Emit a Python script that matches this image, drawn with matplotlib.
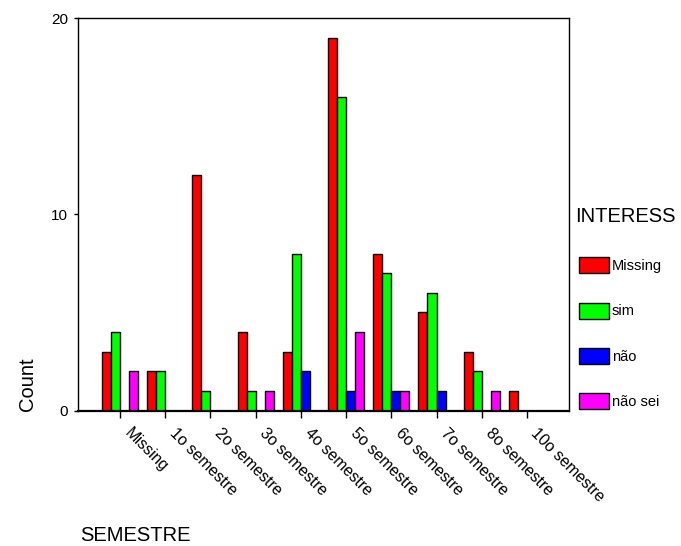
# grouped bar chart: SEMESTRE by INTERESS (counts)
import numpy as np
import matplotlib.pyplot as plt
import matplotlib.transforms as mtransforms

plt.rcParams['font.family'] = ['Liberation Sans', 'DejaVu Sans']

# categories on the x axis
semestres = ['Missing', '1o semestre', '2o semestre', '3o semestre', '4o semestre',
             '5o semestre', '6o semestre', '7o semestre', '8o semestre', '10o semestre']

# counts per INTERESS group
missing = [3, 2, 12, 4, 3, 19, 8, 5, 3, 1]
sim = [4, 2, 1, 1, 8, 16, 7, 6, 2, 0]
nao = [0, 0, 0, 0, 2, 1, 1, 1, 0, 0]
nao_sei = [2, 0, 0, 1, 0, 4, 1, 0, 1, 0]

series = [('Missing', missing, '#ff0000'),
          ('sim', sim, '#00ff00'),
          ('não', nao, '#0000ff'),
          ('não sei', nao_sei, '#ff00ff')]

fig = plt.figure(figsize=(6.81, 5.46), dpi=100)
ax = fig.add_axes([0.1145, 0.248, 0.721, 0.719])

x = np.arange(len(semestres))
w = 0.2
for i, (name, vals, col) in enumerate(series):
    vals = np.array(vals, dtype=float)
    # hide empty bars (SPSS does not draw them)
    vals[vals == 0] = np.nan
    ax.bar(x + (i - 1.5) * w, vals, w, color=col, edgecolor='black',
           linewidth=1, label=name)

ax.set_xlim(-0.93, len(semestres) - 1 + 0.93)
ax.set_ylim(0, 20)
ax.set_yticks([0, 10, 20])
ax.set_xticks(x)
ax.set_xticklabels(semestres, rotation=-45, ha='left', va='top',
                   rotation_mode='anchor', fontsize=11.5)
ax.tick_params(axis='x', direction='out', length=5, width=1, pad=6)
ax.tick_params(axis='y', direction='out', length=3, width=1, labelsize=11, pad=4)
# labels sit a bit to the right of the ticks, like in SPSS
shift = mtransforms.ScaledTranslation(0.12, 0.0, fig.dpi_scale_trans)
for lab in ax.get_xticklabels():
    lab.set_transform(lab.get_transform() + shift)
for s in ax.spines.values():
    s.set_linewidth(1)
ax.spines['bottom'].set_linewidth(1.6)

fig.text(0.041, 0.297, 'Count', rotation=90, ha='center', va='center', fontsize=14.5)
fig.text(0.117, 0.01, 'SEMESTRE', ha='left', va='baseline', fontsize=14.5)
fig.text(0.844, 0.603, 'INTERESS', ha='left', va='center', fontsize=14.5)

leg = ax.legend(loc='center left', bbox_to_anchor=(1.0, 0.197), frameon=False,
                fontsize=10.5, handlelength=2.05, handleheight=1.3,
                handletextpad=0.2, labelspacing=2.02, borderaxespad=0.3)

plt.savefig('out.png')
